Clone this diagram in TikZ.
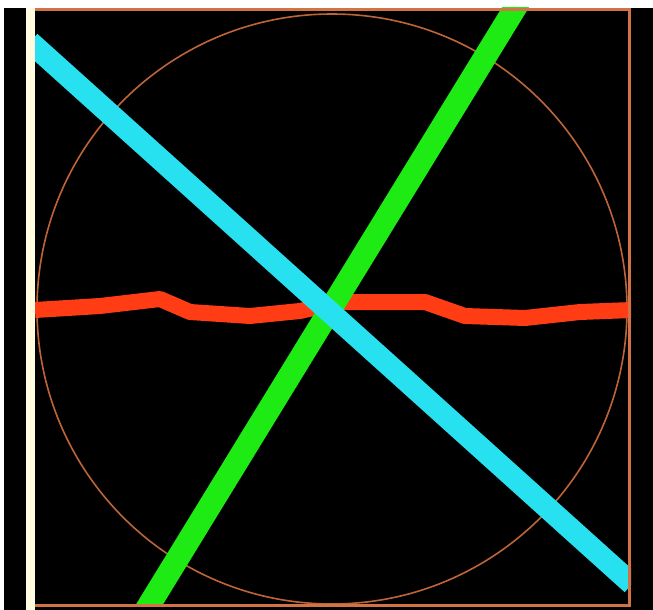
\documentclass[tikz,border=0pt]{standalone}
\begin{document}
\begin{tikzpicture}[x=1pt,y=-1pt,
  creamstrip/.style={fill={rgb,255:red,255;green,252;blue,225}},
  frameline/.style={draw={rgb,255:red,210;green,115;blue,70},line width=3pt},
  ring/.style={draw={rgb,255:red,190;green,100;blue,55},line width=1.6pt},
  redline/.style={draw={rgb,255:red,255;green,60;blue,20},line width=16pt,line join=round},
  greenline/.style={draw={rgb,255:red,30;green,235;blue,20},line width=23pt},
  cyanline/.style={draw={rgb,255:red,40;green,225;blue,240},line width=22pt}]
\useasboundingbox (0,0) rectangle (653,610);
\fill[white] (0,0) rectangle (653,610);
\fill[black] (4,8) rectangle (653,610);
\fill[creamstrip] (26,8) rectangle (35,610);
\begin{scope}
\clip (35,8) rectangle (631,606);
\draw[ring] (332,309) circle (295);
\draw[redline] (35,310) -- (100,306) -- (160,299) -- (190,312) -- (250,316) -- (300,311) -- (340,302) -- (425,302) -- (465,316) -- (525,318) -- (580,312) -- (632,310);
\draw[greenline] (143,615) -- (520,0);
\draw[cyanline] (30,42) -- (632,584);
\end{scope}
\draw[frameline] (35,9.5) -- (629.5,9.5) -- (629.5,605.5) -- (35,605.5);
\end{tikzpicture}
\end{document}
